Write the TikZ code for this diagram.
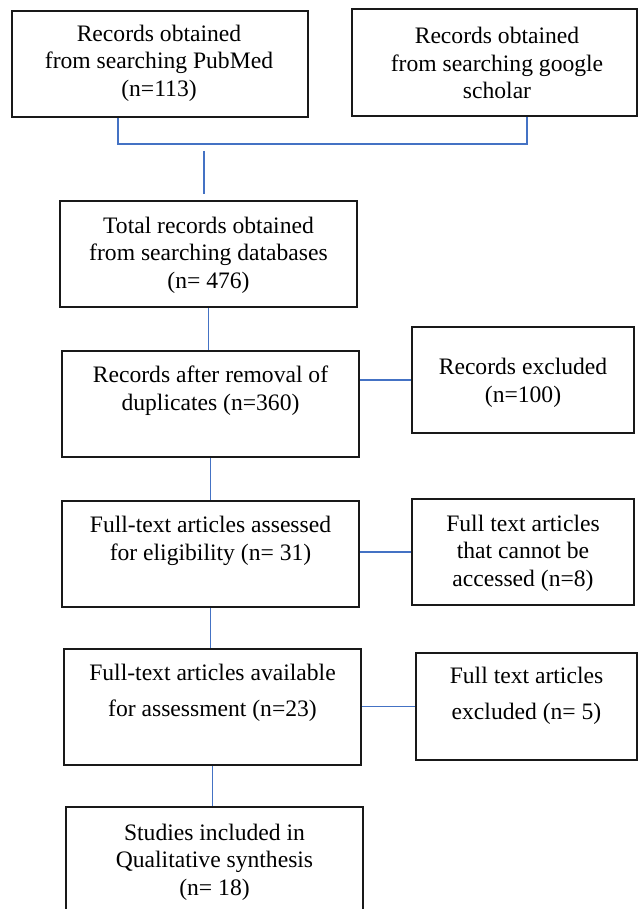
\documentclass[tikz,border=0pt]{standalone}
\usepackage{fontspec}
\setmainfont{Liberation Serif}
\usepackage{xcolor}
\usepackage{tikz}
\usetikzlibrary{positioning}
\definecolor{linkblue}{RGB}{68, 114, 196}
\definecolor{boxline}{RGB}{25, 25, 25}

\begin{document}
\begin{tikzpicture}[x=0.75pt, y=-0.75pt,
    flowbox/.style={rectangle, draw=boxline, line width=1.5pt, minimum width=222.75pt, minimum height=79.5pt, inner sep=0pt},
    sidebox/.style={flowbox, minimum width=166.5pt},
    boxtext/.style={align=center, inner sep=0pt, font=\fontsize{17.7}{20.7}\selectfont},
    link/.style={draw=linkblue, line width=1.1pt}]
    \useasboundingbox (0,0) rectangle (639,909);

    % Search boxes
    \node[flowbox, minimum width=222pt] (pub) at (160,64) {};
    \node[boxtext] (pubT) at (159,63) {Records obtained\\from searching PubMed\\(n=113)};
    \node[flowbox, minimum width=213.75pt, minimum height=80.25pt] (gs) at (494.5,62.5) {};
    \node[boxtext] (gsT) at (497,63) {Records obtained\\from searching google\\scholar};

    % Main column
    \node[flowbox] (tot) at (208.5,254) {};
    \node[boxtext] (totT) at (208.5,255) {Total records obtained\\from searching databases\\(n= 476)};
    \node[flowbox] (rem) at (210.5,404) {};
    \node[boxtext] (remT) at (210.5,391) {Records after removal of\\duplicates (n=360)};
    \node[flowbox] (elig) at (210.5,554) {};
    \node[boxtext] (eligT) at (210.5,541) {Full-text articles assessed\\for eligibility (n= 31)};
    \node[flowbox, minimum height=87pt] (avail) at (212.5,707) {};
    \node[boxtext] (availT) at (212.5,693) {Full-text articles available\\[6pt]for assessment (n=23)};
    \node[flowbox, minimum height=88.5pt] (incl) at (214.5,866) {};
    \node[boxtext] (inclT) at (214.5,862) {Studies included in\\Qualitative synthesis\\(n= 18)};

    % Exclusion boxes
    \node[sidebox] (exc) at (523,380) {};
    \node[boxtext] (excT) at (523,383) {Records excluded\\(n=100)};
    \node[sidebox] (noacc) at (523,552) {};
    \node[boxtext] (noaccT) at (523,553) {Full text articles\\that cannot be\\accessed (n=8)};
    \node[sidebox, minimum width=165.75pt, minimum height=80.25pt] (excl) at (526.5,706.5) {};
    \node[boxtext] (exclT) at (526.5,696) {Full text articles\\[6pt]excluded (n= 5)};

    % Connectors
    \coordinate (pubdrop) at (118,0);
    \coordinate (gsdrop) at (527,0);
    \coordinate (merge) at (204,144);
    \draw[link] (pub.south -| pubdrop) |- (merge) -| (gs.south -| gsdrop);
    \draw[link, shorten <=5.25pt, shorten >=4.5pt] (merge) -- (merge |- tot.north);
    \draw[link] (tot.south) -- (tot.south |- rem.north);
    \draw[link] (rem.south) -- (rem.south |- elig.north);
    \draw[link] (elig.south) -- (elig.south |- avail.north);
    \draw[link] (avail.south) -- (avail.south |- incl.north);
    \draw[link] (exc.west -| rem.east) -- (exc.west);
    \draw[link] (noacc.west -| elig.east) -- (noacc.west);
    \draw[link] (excl.west -| avail.east) -- (excl.west);
\end{tikzpicture}
\end{document}
